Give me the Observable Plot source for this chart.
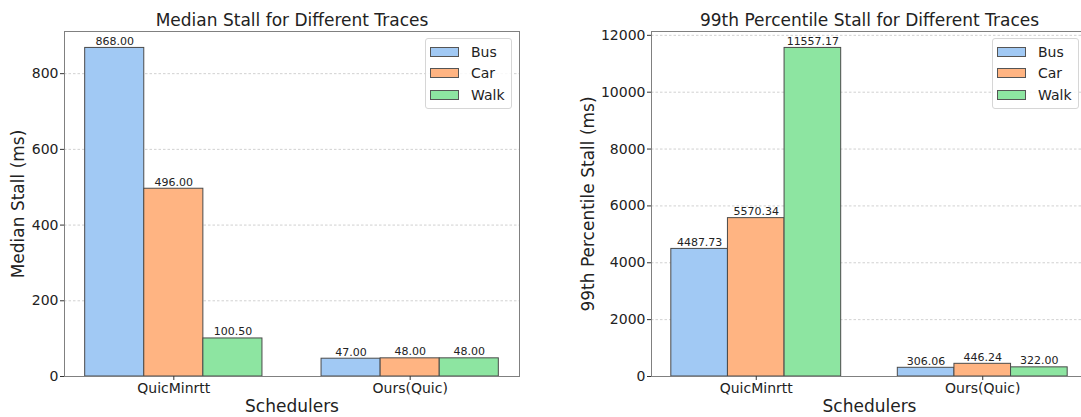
<!DOCTYPE html>
<html>
<head>
<meta charset="utf-8">
<script src="https://cdn.jsdelivr.net/npm/d3@7"></script>
<script src="https://cdn.jsdelivr.net/npm/@observablehq/plot@0.6"></script>
<style>
  html, body { margin: 0; padding: 0; background: #fff; }
  #wrap { position: relative; width: 1081px; height: 417px; overflow: hidden; font-family: "DejaVu Sans", sans-serif; }
  .panel { position: absolute; top: 0; height: 417px; }
  .panel svg { max-width: none !important; display: block; }
  .legend { position: absolute; background: rgba(255,255,255,0.85); border: 1px solid #d6d6d6; border-radius: 3px; box-sizing: border-box; }
  .legend .row { position: absolute; left: 0; height: 20px; display: flex; align-items: center; }
  .legend .sw { width: 29px; height: 10px; border: 1px solid #555; box-sizing: border-box; margin-left: 4px; }
  .legend .lb { margin-left: 12px; font-size: 14px; color: #222; }
</style>
</head>
<body>
<div id="wrap"></div>
<script>
// ---- data ----
const schedulers = ["QuicMinrtt", "Ours(Quic)"];
const traces = ["Bus", "Car", "Walk"];
const traceColors = ["#a1c9f4", "#ffb482", "#8de5a1"];

const medianBus  = [868.00, 47.00];
const medianCar  = [496.00, 48.00];
const medianWalk = [100.50, 48.00];

const p99Bus  = [4487.73, 306.06];
const p99Car  = [5570.34, 446.24];
const p99Walk = [11557.17, 322.00];

const medianTicks = [0, 200, 400, 600, 800];
const p99Ticks = [0, 2000, 4000, 6000, 8000, 10000, 12000];

const barWidth = 0.25;

function buildRows(seriesList) {
  const rows = [];
  schedulers.forEach((s, i) => {
    traces.forEach((t, j) => {
      const x1 = i + (j - 1.5) * barWidth;
      rows.push({scheduler: s, trace: t, value: seriesList[j][i], x1, x2: x1 + barWidth});
    });
  });
  return rows;
}

function chart({rows, ticks, title, ylabel, width, marginLeft, marginRight, ylabelDx}) {
  const yMax = d3.max(rows, d => d.value) * 1.05;
  const xPad = (1 + 2 * 1.5 * barWidth) * 0.05;
  const xDomain = [-1.5 * barWidth - xPad, 1 + 1.5 * barWidth + xPad];
  return Plot.plot({
    width, height: 417,
    marginLeft, marginRight, marginTop: 31, marginBottom: 41,
    style: {fontFamily: "DejaVu Sans, sans-serif", fontSize: "14px", color: "#222", background: "transparent", overflow: "visible", maxWidth: "none"},
    x: {type: "linear", domain: xDomain},
    y: {domain: [0, yMax]},
    color: {domain: traces, range: traceColors},
    marks: [
      Plot.gridY(ticks, {stroke: "#bdbdbd", strokeOpacity: 1, strokeWidth: 0.7, strokeDasharray: "2.5,2"}),
      Plot.rectY(rows, {x1: "x1", x2: "x2", y1: 0, y2: "value", fill: "trace", stroke: "#4a4a4a", strokeWidth: 1}),
      Plot.text(rows, {x: d => (d.x1 + d.x2) / 2, y: "value", text: d => d.value.toFixed(2), dy: -3, lineAnchor: "bottom", fontSize: 11, fill: "#222"}),
      Plot.frame({stroke: "#808080", strokeWidth: 1}),
      Plot.axisY(ticks, {tickSize: 4, tickPadding: 2, tickFormat: d => String(d), label: null, fontSize: 14, stroke: "#333"}),
      Plot.axisX([0, 1], {tickSize: 4, tickPadding: 3, tickFormat: i => schedulers[i], label: null, fontSize: 14, stroke: "#333"}),
      Plot.text([title], {frameAnchor: "top", dy: -6, lineAnchor: "bottom", textAnchor: "middle", fontSize: 17, fill: "#222"}),
      Plot.text([ylabel], {frameAnchor: "left", rotate: -90, dx: ylabelDx, lineAnchor: "middle", textAnchor: "middle", fontSize: 17, fill: "#222"}),
      Plot.text(["Schedulers"], {frameAnchor: "bottom", dy: 30, lineAnchor: "middle", textAnchor: "middle", fontSize: 17, fill: "#222"})
    ]
  });
}

function legend(left, top) {
  const box = document.createElement("div");
  box.className = "legend";
  Object.assign(box.style, {left: left + "px", top: top + "px", width: "87px", height: "71px"});
  traces.forEach((t, j) => {
    const row = document.createElement("div");
    row.className = "row";
    row.style.top = (3 + j * 21.3) + "px";
    const sw = document.createElement("div");
    sw.className = "sw";
    sw.style.background = traceColors[j];
    const lb = document.createElement("div");
    lb.className = "lb";
    lb.textContent = t;
    row.appendChild(sw); row.appendChild(lb);
    box.appendChild(row);
  });
  return box;
}

const wrap = document.getElementById("wrap");

const left = document.createElement("div");
left.className = "panel"; left.style.left = "0px"; left.style.width = "540px";
left.appendChild(chart({
  rows: buildRows([medianBus, medianCar, medianWalk]),
  ticks: medianTicks,
  title: "Median Stall for Different Traces",
  ylabel: "Median Stall (ms)",
  width: 540, marginLeft: 64, marginRight: 21, ylabelDx: -46
}));
wrap.appendChild(left);

const right = document.createElement("div");
right.className = "panel"; right.style.left = "540px"; right.style.width = "560px";
right.appendChild(chart({
  rows: buildRows([p99Bus, p99Car, p99Walk]),
  ticks: p99Ticks,
  title: "99th Percentile Stall for Different Traces",
  ylabel: "99th Percentile Stall (ms)",
  width: 560, marginLeft: 111, marginRight: 13, ylabelDx: -63
}));
wrap.appendChild(right);

wrap.appendChild(legend(425, 38));
wrap.appendChild(legend(992, 38));
</script>
</body>
</html>
